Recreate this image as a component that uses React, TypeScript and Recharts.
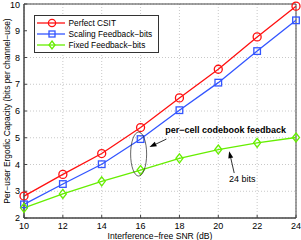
import React from "react";
import {
  LineChart,
  Line,
  XAxis,
  YAxis,
  CartesianGrid,
  ReferenceArea,
  ReferenceDot,
  ReferenceLine,
} from "recharts";

const snr = [10, 12, 14, 16, 18, 20, 22, 24];
const perfect = [2.82, 3.63, 4.41, 5.38, 6.49, 7.56, 8.77, 9.92];
const scaling = [2.51, 3.27, 4.01, 4.95, 6.03, 7.06, 8.24, 9.39];
const fixed = [2.38, 2.9, 3.37, 3.79, 4.23, 4.56, 4.81, 5.01];
const xTicks = [10, 12, 14, 16, 18, 20, 22, 24];
const yTicks = [2, 3, 4, 5, 6, 7, 8, 9, 10];
const seriesNames = ["Perfect CSIT", "Scaling Feedback\u2212bits", "Fixed Feedback\u2212bits"];

const data = snr.map((s, i) => ({ snr: s, perfect: perfect[i], scaling: scaling[i], fixed: fixed[i] }));

const RED = "#ff1010";
const BLUE = "#3355ff";
const GREEN = "#66ee00";
const FONT = "Liberation Sans, Arial, sans-serif";

const Circle = (p: any) => (
  <circle cx={p.cx} cy={p.cy} r={4} fill="none" stroke={RED} strokeWidth={1.3} />
);
const Square = (p: any) => (
  <rect x={p.cx - 3.3} y={p.cy - 3.3} width={6.6} height={6.6} fill="none" stroke={BLUE} strokeWidth={1.3} />
);
const Diamond = (p: any) => (
  <polygon
    points={`${p.cx},${p.cy - 4.5} ${p.cx + 3.5},${p.cy} ${p.cx},${p.cy + 4.5} ${p.cx - 3.5},${p.cy}`}
    fill="none"
    stroke={GREEN}
    strokeWidth={1.3}
  />
);

const Arrow = (p: any) => {
  const { x1, y1, x2, y2 } = p;
  const dx = x2 - x1;
  const dy = y2 - y1;
  const len = Math.sqrt(dx * dx + dy * dy);
  const ux = dx / len;
  const uy = dy / len;
  const hl = 7;
  const hw = 2.5;
  const bx = x2 - ux * hl;
  const by = y2 - uy * hl;
  return (
    <g>
      <line x1={x1} y1={y1} x2={bx} y2={by} stroke="#000" strokeWidth={0.8} />
      <polygon
        points={`${x2},${y2} ${bx - uy * hw},${by + ux * hw} ${bx + uy * hw},${by - ux * hw}`}
        fill="#000"
      />
    </g>
  );
};

const EllipseShape = (p: any) => (
  <ellipse cx={p.cx} cy={p.cy} rx={8} ry={22} fill="none" stroke="#222" strokeWidth={0.7} />
);

const TextShape = (label: string, bold: boolean) => (p: any) => (
  <text
    x={p.cx}
    y={p.cy}
    textAnchor="middle"
    fontFamily={FONT}
    fontSize={9}
    fontWeight={bold ? "bold" : "normal"}
    fill="#000"
  >
    {label}
  </text>
);

const LegendBox = () => {
  const items = [
    { name: seriesNames[0], color: RED, shape: "circle" },
    { name: seriesNames[1], color: BLUE, shape: "square" },
    { name: seriesNames[2], color: GREEN, shape: "diamond" },
  ];
  return (
    <svg width={125} height={38} style={{ display: "block" }}>
      <rect x={0.5} y={0.5} width={124} height={37} fill="#fff" stroke="#333" strokeWidth={1} />
      {items.map((it, i) => {
        const y = 8 + i * 11;
        const cx = 18;
        return (
          <g key={i}>
            <line x1={3} y1={y} x2={31} y2={y} stroke={it.color} strokeWidth={1.3} />
            {it.shape === "circle" && <circle cx={cx} cy={y} r={3.6} fill="none" stroke={it.color} strokeWidth={1.3} />}
            {it.shape === "square" && (
              <rect x={cx - 3} y={y - 3} width={6} height={6} fill="none" stroke={it.color} strokeWidth={1.3} />
            )}
            {it.shape === "diamond" && (
              <polygon
                points={`${cx},${y - 4} ${cx + 3},${y} ${cx},${y + 4} ${cx - 3},${y}`}
                fill="none"
                stroke={it.color}
                strokeWidth={1.3}
              />
            )}
            <text x={34.5} y={y + 3} fontFamily={FONT} fontSize={8.3} fill="#000">
              {it.name}
            </text>
          </g>
        );
      })}
    </svg>
  );
};

export default function App() {
  return (
    <div style={{ position: "absolute", left: 0, top: 0, width: 301, height: 240, background: "#fff" }}>
      <LineChart width={301} height={240} data={data} margin={{ top: 4, right: 5, bottom: 0, left: 0 }}>
        <CartesianGrid stroke="#c8c8c8" strokeDasharray="1 2" />
        <XAxis
          dataKey="snr"
          type="number"
          domain={[10, 24]}
          ticks={xTicks}
          height={22}
          stroke="#444"
          tickSize={-3}
          tickMargin={8}
          tick={{ fontSize: 9, fill: "#000", fontFamily: FONT }}
          label={{
            value: "Interference\u2212free SNR (dB)",
            position: "insideBottom",
            offset: 1,
            fontSize: 8.6,
            fill: "#000",
            fontFamily: FONT,
          }}
        />
        <YAxis
          type="number"
          domain={[2, 10]}
          ticks={yTicks}
          width={24}
          stroke="#444"
          tickSize={-3}
          tickMargin={7}
          tick={{ fontSize: 9, fill: "#000", fontFamily: FONT }}
          label={{
            value: "Per\u2212user Ergodic Capacity (bits per channel\u2212use)",
            angle: -90,
            position: "center",
            dx: -5,
            fontSize: 8.4,
            fill: "#000",
            fontFamily: FONT,
          }}
        />
        <ReferenceArea x1={10} x2={24} y1={2} y2={10} fill="none" stroke="#444" strokeWidth={1} ifOverflow="visible" />
        <Line dataKey="perfect" stroke={RED} strokeWidth={1.3} dot={<Circle />} isAnimationActive={false} name={seriesNames[0]} />
        <Line dataKey="scaling" stroke={BLUE} strokeWidth={1.3} dot={<Square />} isAnimationActive={false} name={seriesNames[1]} />
        <Line dataKey="fixed" stroke={GREEN} strokeWidth={1.3} dot={<Diamond />} isAnimationActive={false} name={seriesNames[2]} />
        <ReferenceDot x={15.9} y={4.39} shape={EllipseShape} ifOverflow="visible" />
        <ReferenceLine segment={[{ x: 17.33, y: 4.95 }, { x: 16.46, y: 4.65 }]} shape={Arrow} ifOverflow="visible" />
        <ReferenceLine segment={[{ x: 20.82, y: 3.68 }, { x: 20.56, y: 4.5 }]} shape={Arrow} ifOverflow="visible" />
        <ReferenceDot x={20.38} y={5.17} shape={TextShape("per\u2212cell codebook feedback", true)} ifOverflow="visible" />
        <ReferenceDot x={21.23} y={3.35} shape={TextShape("24 bits", false)} ifOverflow="visible" />
      </LineChart>
      <div style={{ position: "absolute", left: 34, top: 15 }}>
        <LegendBox />
      </div>
    </div>
  );
}
